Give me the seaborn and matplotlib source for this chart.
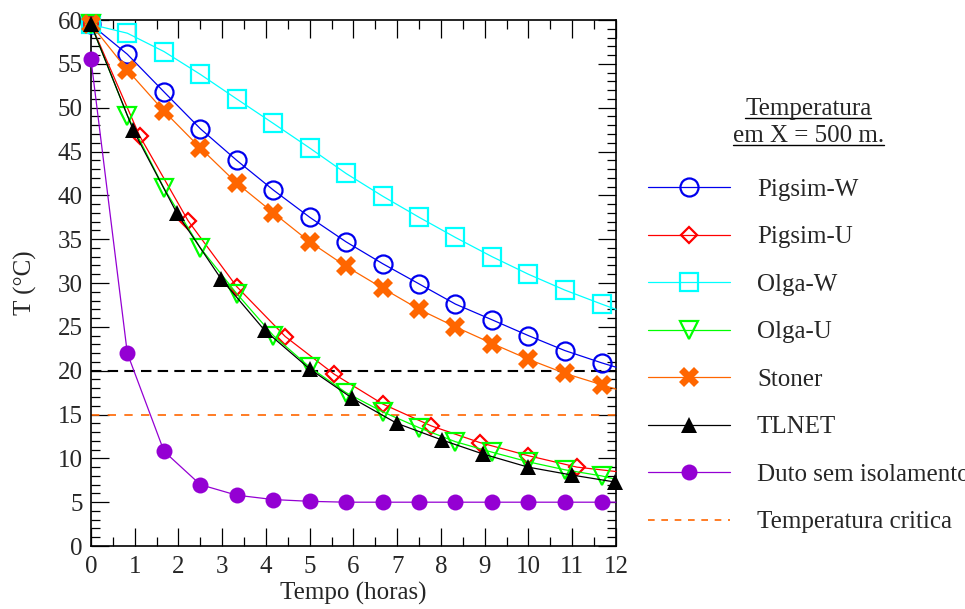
import matplotlib
matplotlib.use('Agg')
from matplotlib import pyplot as plt
from matplotlib.ticker import MultipleLocator
from matplotlib.lines import Line2D
import seaborn as sns

# tempo (horas) e temperaturas lidas do grafico
# o ultimo ponto (t=12) e so o fim da curva, sem marcador
t_a = [0, 0.83, 1.67, 2.5, 3.33, 4.17, 5, 5.83, 6.67, 7.5, 8.33, 9.17, 10, 10.83, 11.67, 12]
pigsim_w = [59.5, 56.1, 51.8, 47.6, 44.0, 40.6, 37.5, 34.7, 32.2, 29.9, 27.6, 25.8, 24.0, 22.3, 20.9, 20.4]
olga_w = [59.5, 58.5, 56.4, 53.8, 51.0, 48.2, 45.4, 42.5, 39.9, 37.5, 35.2, 33.0, 31.0, 29.2, 27.6, 27.0]
stoner = [59.5, 54.3, 49.6, 45.4, 41.4, 38.0, 34.7, 31.9, 29.4, 27.0, 25.0, 23.1, 21.3, 19.7, 18.4, 17.9]
olga_u = [59.5, 49.1, 40.8, 34.0, 28.8, 24.0, 20.4, 17.5, 15.3, 13.5, 11.9, 10.7, 9.6, 8.7, 8.0, 7.6]
duto = [55.5, 22.0, 10.8, 7.0, 5.8, 5.3, 5.1, 5.0, 5.0, 5.0, 5.0, 5.0, 5.0, 5.0, 5.0, 5.0]

t_u = [0, 1.11, 2.22, 3.33, 4.44, 5.56, 6.67, 7.78, 8.89, 10, 11.11, 12]
pigsim_u = [59.5, 46.8, 37.1, 29.6, 23.9, 19.6, 16.2, 13.7, 11.8, 10.3, 9.0, 8.5]

t_tl = [0, 0.97, 1.96, 2.97, 3.97, 5, 5.96, 6.99, 8.02, 8.96, 9.99, 10.99, 11.98]
tlnet = [59.5, 47.4, 38.0, 30.5, 24.6, 20.2, 16.9, 14.0, 12.1, 10.5, 9.0, 8.1, 7.3]

t_limite = 20
t_critica = 15

sns.set_style('ticks')
plt.rcParams['font.family'] = ['Liberation Serif', 'DejaVu Serif']

fig = plt.figure(figsize=(9.65, 6.09), dpi=100)
ax = fig.add_axes([0.0943, 0.1034, 0.5440, 0.8637])

ax.axhline(t_limite, color='black', ls=(0, (5, 3)), lw=1.5, zorder=1)
ax.axhline(t_critica, color='#ff6600', ls=(0, (5, 5)), lw=1.2, zorder=1)

series = [
    (t_a, pigsim_w, 'Pigsim-W', '#0000ee', 'o', 13, 'none'),
    (t_u, pigsim_u, 'Pigsim-U', '#ff0000', 'D', 8.5, 'none'),
    (t_a, olga_w, 'Olga-W', '#00ffff', 's', 12.5, 'none'),
    (t_a, olga_u, 'Olga-U', '#00ff00', 'v', 12.5, 'none'),
    (t_a, stoner, 'Stoner', '#ff6600', 'X', 14, 'fill'),
    (t_tl, tlnet, 'TLNET', '#000000', '^', 12, 'fill'),
    (t_a, duto, 'Duto sem isolamento', '#9400d3', 'o', 11.5, 'fill'),
]

handles = []
for x, y, nome, cor, mk, ms, face in series:
    every = slice(0, len(x)) if nome == 'TLNET' else slice(0, len(x) - 1)
    mew = 0 if face == 'fill' else 1.6
    sns.lineplot(x=x, y=y, ax=ax, color=cor, lw=0.9, marker=mk, markersize=ms,
                 markerfacecolor=cor if face == 'fill' else 'none',
                 markeredgecolor=cor, markeredgewidth=mew, markevery=every,
                 clip_on=False, zorder=3, legend=False)
    handles.append(Line2D([], [], color=cor, lw=0.9, marker=mk, markersize=ms,
                          markerfacecolor=cor if face == 'fill' else 'none',
                          markeredgecolor=cor, markeredgewidth=mew, label=nome))
handles.append(Line2D([], [], color='#ff6600', ls=(0, (4, 4)), lw=1.2,
                      label='Temperatura critica'))

ax.set_xlim(0, 12)
ax.set_ylim(0, 60)
ax.xaxis.set_major_locator(MultipleLocator(1))
ax.xaxis.set_minor_locator(MultipleLocator(0.5))
ax.yaxis.set_major_locator(MultipleLocator(5))
ax.yaxis.set_minor_locator(MultipleLocator(1))
ax.tick_params(which='both', direction='in', top=True, right=True, width=0.9,
               color='black', labelsize=18)
ax.tick_params(axis='y', pad=6)
ax.tick_params(axis='x', pad=7)
ax.tick_params(which='major', length=13)
ax.tick_params(which='minor', length=6.5)
for s in ax.spines.values():
    s.set_linewidth(1.2)
    s.set_color('black')

ax.set_xlabel('Tempo (horas)', fontsize=18, labelpad=3)
ax.set_ylabel('T (°C)', fontsize=18, labelpad=15)

fig.legend(handles=handles, loc='upper left', bbox_to_anchor=(0.6715, 0.707),
           frameon=False, fontsize=18, handlelength=3.28, handletextpad=1.08,
           labelspacing=1.0, borderpad=0, borderaxespad=0)

# titulo sublinhado da legenda
titulos = [fig.text(0.8375, 1 - 109 / 609, 'Temperatura', ha='center', va='center', fontsize=18),
           fig.text(0.8375, 1 - 136 / 609, 'em X = 500 m.', ha='center', va='center', fontsize=18)]
fig.canvas.draw()
r = fig.canvas.get_renderer()
for tx in titulos:
    bb = tx.get_window_extent(r).transformed(fig.transFigure.inverted())
    yline = bb.y0 + 0.004
    fig.add_artist(Line2D([bb.x0, bb.x1], [yline, yline], color='black', lw=1.0,
                          transform=fig.transFigure))

fig.savefig('out.png', dpi=100)
